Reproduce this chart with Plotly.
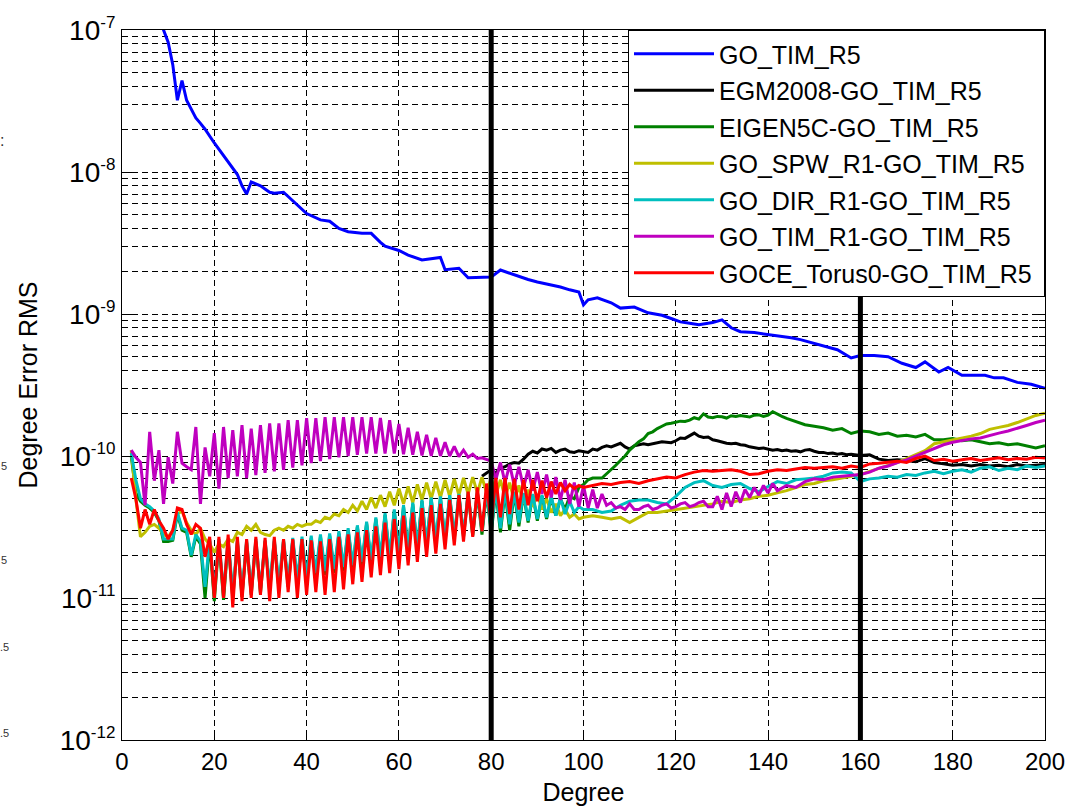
import plotly.graph_objects as go

UNIT = 1e-11  # all series values below are in units of 1e-11

# ---------------- data ----------------
blue_deg = [2, 4, 6, 8, 9, 10, 11, 12, 13, 14, 15, 16, 17, 18, 20, 22, 24, 25, 26, 27,
            28, 30, 32, 33, 35, 37, 40, 43, 45, 47, 49, 52, 54, 56, 57, 60, 62, 65, 67, 69,
            70, 73, 75, 78, 80, 82, 85, 88, 90, 93, 95, 97, 99, 100, 101, 103, 106, 108, 111, 114,
            117, 119, 121, 123, 125, 128, 130, 132, 134, 137, 140, 143, 145, 147, 150, 153, 155, 158, 160, 163,
            166, 169, 172, 174, 177, 179, 182, 185, 187, 189, 191, 194, 197, 200]
blue_val = [60000, 35000, 20000, 13000, 10000,
            8200, 5700, 3200, 4400, 3200,
            2800, 2400, 2200, 2000, 1600,
            1300, 1070, 960, 800, 700,
            850, 800, 720, 710, 720,
            630, 510, 460, 450, 400,
            380, 370, 370, 320, 300,
            280, 260, 240, 245, 250,
            205, 210, 180, 180, 182,
            204, 188, 175, 168, 160,
            155, 148, 143, 116, 126,
            130, 120, 110, 112, 102,
            98, 93, 88, 86, 84,
            87, 91, 80, 75, 74,
            72, 70, 68, 66, 62,
            58, 56, 49, 51, 51,
            50, 45, 42, 46, 39,
            42, 37, 37, 37, 35.5,
            35.5, 33, 32, 30]

black_deg = list(range(78, 161)) + list(range(162, 201, 2))
black_val = [7.2, 7.6, 8.0, 7.6, 8.2, 8.4, 8.8, 9.0, 8.9, 9.5,
             10.3, 10.8, 10.5, 11.2, 11.0, 11.3, 10.6, 11.0, 11.2, 10.7,
             10.6, 10.9, 10.8, 10.6, 11.2, 11.0, 11.5, 11.8, 11.6, 12.0,
             12.3, 11.6, 11.2, 11.8, 12.0, 12.2, 12.0, 12.2, 12.3, 12.6,
             12.5, 12.4, 12.8, 13.4, 13.3, 13.8, 14.5, 13.8, 13.5, 13.6,
             13.0, 12.8, 12.5, 12.3, 12.2, 12.3, 12.0, 11.9, 11.6, 11.5,
             11.3, 11.4, 11.2, 11.0, 11.1, 10.9, 11.0, 10.8, 10.9, 10.7,
             11.0, 11.1, 10.8, 10.6, 10.6, 10.4, 10.5, 10.3, 10.4, 10.2,
             10.3, 10.2, 10.1,
             10.2, 9.5, 9.3, 9.4, 9.3, 9.1, 9.6, 9.0, 8.8, 8.6,
             8.7, 8.5, 8.7, 8.5, 8.6, 8.4, 8.7, 8.5, 8.6, 8.7]

green_deg = list(range(2, 150)) + list(range(150, 201, 2))
green_val = [10.0, 5.5, 4.8, 4.5, 4.3, 4.0, 3.5, 2.5, 2.5, 2.55,
             3.9, 3.0, 2.9, 1.95, 2.7, 2.4, 1.0, 2.5, 0.95, 2.5,
             0.97, 2.5, 1.0, 2.45, 1.02, 2.45, 1.05, 2.5, 1.08, 2.5,
             1.12, 2.5, 1.16, 2.5, 1.2, 2.55, 1.25, 2.6, 1.3, 2.65,
             1.38, 2.7, 1.45, 2.75, 1.5, 2.85, 1.55, 3.0, 1.6, 3.15,
             1.7, 3.35, 1.75, 3.6, 1.85, 3.85, 1.9, 4.1, 2.0, 4.4,
             2.1, 4.6, 2.2, 4.8, 2.3, 5.0, 2.4, 5.1, 2.5, 5.2,
             2.6, 5.3, 2.7, 5.4, 2.75, 5.5, 2.8, 5.6, 2.85, 5.7,
             2.9, 5.6, 3.0, 5.5, 3.2, 5.4, 3.4, 5.3, 3.5, 5.2,
             3.6, 5.1, 3.8, 5.0, 4.2, 5.2, 5.0, 6.0, 6.3,
             6.8, 7.0, 7.0, 7.0, 7.5, 8.0, 8.6, 9.3, 10.0, 11.0,
             11.8, 12.6, 13.2, 14.4, 14.8, 15.6, 16.2, 16.8, 17.0, 17.3,
             17.6, 17.5, 17.9, 18.6, 18.2, 19.8, 18.8, 18.6, 19.0, 18.9,
             18.5, 19.2, 19.0, 19.3, 19.0, 18.8, 19.4, 19.5, 19.0, 19.4,
             20.5, 19.6, 19.0, 18.4, 17.9, 17.5, 17.0, 16.6, 16.4,
             16.2, 15.8, 15.2, 15.6, 14.4, 15.0, 14.8, 14.2, 14.5, 13.8,
             14.0, 13.6, 14.2, 13.0, 13.0, 13.3, 12.8, 13.0, 12.6, 12.2,
             12.4, 12.0, 12.2, 11.8, 11.4, 11.8]

yellow_deg = list(range(2, 101)) + list(range(102, 201, 2))
yellow_val = [11.0, 5.0, 2.7, 2.9, 3.2, 3.3, 3.1, 2.8, 2.7, 3.0,
              3.9, 4.1, 3.4, 3.0, 2.8, 3.1, 2.6, 2.4, 2.1, 2.4,
              2.3, 2.6, 2.5, 2.9, 2.8, 3.2, 3.0, 3.3, 2.9, 2.8,
              2.75, 3.0, 3.1, 3.0, 3.2, 3.1, 3.3, 3.2, 3.3, 3.3,
              3.5, 3.4, 3.7, 3.6, 3.9, 3.8, 4.2, 4.0, 4.5, 4.1,
              4.8, 4.2, 5.1, 4.3, 5.3, 4.4, 5.6, 4.5, 5.9, 4.6,
              6.1, 4.7, 6.3, 4.9, 6.5, 5.0, 6.6, 5.1, 6.8, 5.2,
              6.9, 5.3, 7.0, 5.4, 7.1, 5.5, 7.1, 5.5, 7.0, 5.3,
              6.8, 5.1, 6.5, 4.8, 6.2, 4.6, 5.8, 4.4, 5.4, 4.2,
              5.0, 4.0, 4.6, 3.8, 4.2, 3.7, 3.9, 3.6, 3.7,
              3.8, 3.7, 3.6, 3.7, 3.4, 3.7, 4.0, 4.0, 4.1, 4.2,
              4.3, 4.4, 4.5, 4.6, 4.8, 4.7, 4.9, 5.0, 5.2, 5.3,
              5.5, 5.7, 6.0, 6.3, 6.4, 6.7, 6.8, 7.0, 7.2, 7.4,
              7.8, 8.2, 8.6, 9.0, 9.6, 10.2, 10.9, 12.2, 12.6, 13.0,
              13.3, 13.8, 14.4, 15.4, 15.9, 16.4, 17.2, 18.3, 19.3, 20.0]

cyan_deg = list(range(2, 101)) + list(range(102, 201, 2))
cyan_val = [10.5, 6.8, 5.0, 4.6, 4.4, 4.1, 3.6, 2.6, 2.6, 2.6,
            4.0, 3.1, 3.0, 2.0, 2.8, 2.5, 1.2, 2.6, 1.1, 2.6,
            1.1, 2.6, 1.08, 2.55, 1.1, 2.55, 1.12, 2.6, 1.15, 2.55,
            1.2, 2.6, 1.25, 2.6, 1.3, 2.65, 1.35, 2.7, 1.4, 2.75,
            1.5, 2.8, 1.55, 2.85, 1.6, 2.95, 1.65, 3.1, 1.7, 3.25,
            1.8, 3.45, 1.85, 3.7, 1.95, 3.95, 2.0, 4.2, 2.1, 4.5,
            2.2, 4.7, 2.3, 4.9, 2.4, 5.1, 2.5, 5.2, 2.6, 5.3,
            2.7, 5.4, 2.8, 5.5, 2.9, 5.6, 2.95, 5.7, 3.0, 5.8,
            3.1, 5.7, 3.3, 5.6, 3.4, 5.5, 3.5, 5.4, 3.6, 5.3,
            3.7, 5.2, 3.8, 5.1, 3.9, 4.8, 4.0, 4.4, 4.2,
            4.2, 4.0, 4.1, 4.5, 4.8, 4.9, 4.9, 4.7, 4.6, 5.2,
            6.0, 6.5, 6.7, 6.2, 6.0, 6.3, 6.4, 5.9, 5.6, 6.1,
            6.6, 6.4, 6.8, 6.9, 7.0, 7.2, 7.6, 7.7, 7.6, 6.6,
            6.9, 7.0, 7.2, 7.1, 7.4, 7.3, 7.6, 7.8, 7.5, 7.8,
            8.0, 7.7, 8.2, 8.4, 7.9, 8.2, 8.0, 8.5, 8.3, 8.5]

magenta_deg = list(range(2, 143)) + list(range(144, 201, 2))
magenta_val = [11.0, 9.8, 9.0, 4.5, 14.8, 6.7, 11.0, 4.6, 9.8, 6.4,
               14.8, 8.9, 8.4, 8.0, 16.0, 4.6, 11.5, 7.2, 14.5, 5.9,
               16.0, 7.0, 15.2, 7.2, 16.5, 7.0, 15.6, 7.35, 16.5, 7.6,
               17.0, 7.8, 17.0, 8.0, 17.9, 8.3, 17.9, 8.6, 18.5, 8.9,
               18.5, 9.2, 18.8, 9.5, 18.8, 9.8, 18.8, 10.0, 18.8, 10.2,
               18.8, 10.4, 18.8, 10.4, 18.5, 10.4, 17.9, 10.4, 16.8, 10.3,
               15.8, 10.2, 14.8, 10.1, 14.1, 10.0, 13.4, 10.0, 12.5, 10.0,
               11.7, 9.9, 11.0, 9.8, 10.3, 9.6, 9.7, 9.4, 9.2, 6.8,
               9.0, 6.5, 8.7, 6.2, 8.4, 6.0, 8.0, 5.7, 7.7, 5.4,
               7.4, 5.1, 7.1, 4.9, 6.8, 4.6, 6.5, 4.4, 6.2, 4.3,
               5.8, 4.3, 5.4,
               4.5, 4.7, 4.3, 4.4, 4.2, 4.6, 4.2, 4.2, 4.4, 4.5,
               4.2, 4.3, 4.5, 4.6, 4.3, 4.4, 4.6, 4.7, 4.4, 4.5,
               4.7, 4.8, 4.4, 4.4, 5.2, 4.2, 5.5, 4.4, 5.6, 4.7,
               5.8, 5.1, 6.0, 5.3, 6.2, 5.5, 6.4, 5.7,
               6.2, 6.0, 6.6, 6.9, 6.8, 7.1, 7.2, 7.3, 7.4, 7.7,
               8.2, 8.5, 9.0, 9.4, 10.0, 10.7, 11.3, 12.0, 12.5, 12.9,
               13.2, 13.4, 14.0, 14.5, 15.0, 15.6, 16.4, 17.2, 17.9]

red_deg = list(range(2, 101)) + list(range(102, 201, 2))
red_val = [7.0, 5.0, 3.1, 4.2, 3.3, 4.2, 3.5, 3.1, 2.6, 3.0,
           4.3, 4.2, 3.3, 2.8, 3.3, 3.1, 1.95, 2.7, 1.0, 2.7,
           1.0, 2.8, 0.86, 2.7, 0.95, 2.6, 1.0, 2.7, 1.05, 2.65,
           0.95, 2.7, 1.0, 2.6, 1.1, 2.6, 1.0, 2.6, 1.05, 2.55,
           1.1, 2.5, 1.05, 2.6, 1.1, 2.7, 1.15, 2.8, 1.25, 2.9,
           1.3, 3.0, 1.4, 3.2, 1.45, 3.4, 1.5, 3.6, 1.6, 3.8,
           1.7, 4.0, 1.8, 4.3, 1.95, 4.5, 2.05, 4.6, 2.2, 4.9,
           2.35, 5.3, 2.5, 5.6, 2.7, 6.0, 2.95, 6.4, 3.3, 7.0,
           3.7, 7.0, 3.9, 6.9, 4.2, 6.8, 4.5, 6.8, 4.8, 6.7,
           5.1, 6.6, 5.4, 6.5, 5.7, 6.3, 5.9, 6.2, 6.0,
           6.2, 6.4, 6.3, 6.5, 6.6, 6.4, 6.7, 6.9, 7.1, 7.0,
           7.4, 7.7, 7.9, 7.8, 7.9, 8.0, 7.8, 7.4, 7.5, 7.8,
           8.0, 7.9, 8.1, 8.3, 8.2, 8.3, 8.4, 8.2, 8.5, 8.3,
           8.8, 8.9, 9.0, 9.2, 9.0, 9.6, 10.0, 9.3, 9.5, 9.2,
           9.4, 9.6, 9.3, 9.5, 9.7, 9.4, 9.6, 9.5, 9.8, 9.7]

series_names = ["GO_TIM_R5", "EGM2008-GO_TIM_R5", "EIGEN5C-GO_TIM_R5",
                "GO_SPW_R1-GO_TIM_R5", "GO_DIR_R1-GO_TIM_R5",
                "GO_TIM_R1-GO_TIM_R5", "GOCE_Torus0-GO_TIM_R5"]
series_colors = ["#0000FF", "#000000", "#008000", "#BFBF00", "#00BFBF", "#BF00BF", "#FF0000"]

x_ticks = [0, 20, 40, 60, 80, 100, 120, 140, 160, 180, 200]
y_exponents = [-12, -11, -10, -9, -8, -7]
band_limits = [80, 160]

# ---------------- figure ----------------
W, H = 1075, 810
ML, MR, MT, MB = 122, 30, 30, 70

fig = go.Figure()
all_deg = [blue_deg, black_deg, green_deg, yellow_deg, cyan_deg, magenta_deg, red_deg]
all_val = [blue_val, black_val, green_val, yellow_val, cyan_val, magenta_val, red_val]
for i, (name, col, d, v) in enumerate(zip(series_names, series_colors, all_deg, all_val)):
    fig.add_trace(go.Scatter(
        x=d, y=[u * UNIT for u in v], mode="lines", name=name + "\u00a0",
        line=dict(color=col, width=3), legendgroup="g%d" % i,
    ))

for b in band_limits:
    fig.add_vline(x=b, line=dict(color="black", width=5))

major_vals = [10.0 ** e for e in y_exponents]
major_text = ["10<sup><span style='font-size:17px'>%d</span></sup>" % e for e in y_exponents]
minor_vals = [k * 10.0 ** e for e in y_exponents[:-1] for k in range(2, 10)]

narrow = "Liberation Sans Narrow, Arial Narrow, Liberation Sans, Arial"
regular = "Liberation Sans, Arial"
dash = "6px,4px"

fig.update_layout(
    width=W, height=H,
    margin=dict(l=ML, r=MR, t=MT, b=MB, pad=0),
    paper_bgcolor="white", plot_bgcolor="white",
    showlegend=True,
    legend=dict(
        x=1, y=1, xanchor="right", yanchor="top",
        bgcolor="white", bordercolor="black", borderwidth=1,
        font=dict(family=regular, size=25, color="black"),
        tracegroupgap=1, itemwidth=80,
    ),
    xaxis=dict(
        range=[0, 200], tickmode="array", tickvals=x_ticks, automargin=False,
        ticks="inside", ticklen=10, tickwidth=1, tickcolor="black",
        showline=True, linecolor="black", linewidth=1, mirror="ticks",
        showgrid=True, gridcolor="black", gridwidth=1, griddash=dash,
        zeroline=False,
        tickfont=dict(family=narrow, size=24, color="black"),
        title=dict(text="Degree", font=dict(family=narrow, size=25, color="black"), standoff=9),
    ),
    yaxis=dict(
        type="log", range=[-12, -7], tickmode="array", automargin=False,
        tickvals=major_vals, ticktext=major_text,
        ticks="inside", ticklen=10, tickwidth=1, tickcolor="black",
        showline=True, linecolor="black", linewidth=1, mirror="ticks",
        showgrid=True, gridcolor="black", gridwidth=1, griddash=dash,
        zeroline=False,
        minor=dict(tickvals=minor_vals, ticks="inside", ticklen=6, tickcolor="black",
                   showgrid=True, gridcolor="black", gridwidth=1, griddash=dash),
        tickfont=dict(family=regular, size=28, color="black"),
        title=dict(text="Degree Error RMS", font=dict(family=narrow, size=25, color="black"), standoff=14),
    ),
)

# fragments of a neighbouring figure at the left edge
def px_x(p):
    return (p - ML) / (W - ML - MR)

def px_y(p):
    return 1 - (p - MT) / (H - MT - MB)

frag = [(":", 2, 140, 16), ("5", 4, 466, 11), ("5", 4, 560, 11), (".5", 4, 647, 11), (".5", 4, 733, 11)]
for t, fx, fy, fs in frag:
    fig.add_annotation(text=t, xref="paper", yref="paper", x=px_x(fx), y=px_y(fy),
                       xanchor="center", yanchor="middle", showarrow=False,
                       font=dict(family=regular, size=fs, color="#333333"))

fig.write_html("out.html", config={"displayModeBar": False},
               post_script="document.body.style.margin='0px';document.body.style.overflow='hidden';")
